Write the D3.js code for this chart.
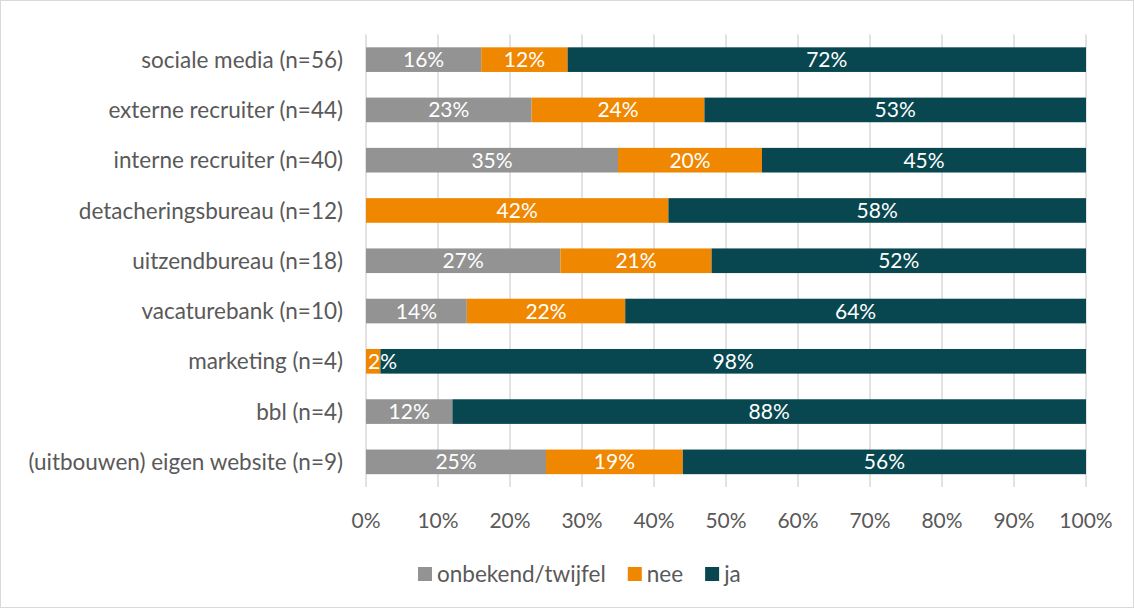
<!DOCTYPE html>
<html>
<head>
<meta charset="utf-8">
<script src="https://cdn.jsdelivr.net/npm/d3@7"></script>
<style>
  body { margin: 0; background: #fff; }
  svg text { font-family: Lato, "Open Sans", sans-serif; }
</style>
</head>
<body>
<script>
var w = 1134;
var h = 608;

// categories and values (percent)
var categories = [
  "sociale media (n=56)",
  "externe recruiter (n=44)",
  "interne recruiter (n=40)",
  "detacheringsbureau (n=12)",
  "uitzendbureau (n=18)",
  "vacaturebank (n=10)",
  "marketing (n=4)",
  "bbl (n=4)",
  "(uitbouwen) eigen website (n=9)"
];
var onbekend = [16, 23, 35, 0, 27, 14, 0, 12, 25];
var nee      = [12, 24, 20, 42, 21, 22, 2, 0, 19];
var ja       = [72, 53, 45, 58, 52, 64, 98, 88, 56];
var seriesNames = ["onbekend/twijfel", "nee", "ja"];
var seriesColors = ["#939393", "#F08700", "#08474F"];
var xTicks = [0, 10, 20, 30, 40, 50, 60, 70, 80, 90, 100];

var rows = categories.map(function(c, i) {
  return { cat: c, "onbekend/twijfel": onbekend[i], nee: nee[i], ja: ja[i] };
});

var stack = d3.stack().keys(seriesNames)(rows);

var plotLeft = 366, plotRight = 1086, plotTop = 34.5, plotBottom = 487;
var numSize = "21px", txtSize = "22.5px";

var x = d3.scaleLinear().domain([0, 100]).range([plotLeft, plotRight]);
var y = d3.scaleBand().domain(categories).range([plotTop, plotBottom]).paddingInner(0.51).paddingOuter(0.255);

var svg = d3.select("body").append("svg")
  .attr("width", w)
  .attr("height", h);

// border
svg.append("rect")
  .attr("x", 0.5).attr("y", 0.5)
  .attr("width", w - 1).attr("height", h - 1)
  .style("fill", "none")
  .style("stroke", "#d9d9d9");

// gridlines
svg.selectAll("line.grid")
  .data(xTicks)
  .enter()
  .append("line")
  .attr("class", "grid")
  .attr("x1", function(d) { return x(d); })
  .attr("x2", function(d) { return x(d); })
  .attr("y1", plotTop)
  .attr("y2", plotBottom)
  .style("stroke", "#d9d9d9")
  .style("stroke-width", 1.5);

// bars
var groups = svg.selectAll("g.series")
  .data(stack)
  .enter()
  .append("g")
  .attr("class", "series")
  .style("fill", function(d, i) { return seriesColors[i]; });

groups.selectAll("rect")
  .data(function(d) { return d; })
  .enter()
  .append("rect")
  .attr("x", function(d) { return x(d[0]); })
  .attr("width", function(d) { return x(d[1]) - x(d[0]); })
  .attr("y", function(d) { return y(d.data.cat); })
  .attr("height", y.bandwidth());

// value labels, in their own layer above all bars
var labelGroups = svg.selectAll("g.labels")
  .data(stack)
  .enter()
  .append("g")
  .attr("class", "labels");

labelGroups.selectAll("text")
  .data(function(d) { return d.filter(function(p) { return p[1] - p[0] > 0; }); })
  .enter()
  .append("text")
  .attr("y", function(d) { return y(d.data.cat) + y.bandwidth() / 2; })
  .attr("dy", "0.36em")
  .attr("text-anchor", "middle")
  .style("fill", "#fff")
  .style("font-size", numSize)
  .text(function(d) { return Math.round(d[1] - d[0]) + "%"; })
  .attr("x", function(d) {
    var half = this.getComputedTextLength() / 2;
    return Math.max(x((d[0] + d[1]) / 2), plotLeft + half + 2);
  });

// category labels
svg.selectAll("text.cat")
  .data(categories)
  .enter()
  .append("text")
  .attr("class", "cat")
  .attr("x", 343)
  .attr("y", function(d) { return y(d) + y.bandwidth() / 2; })
  .attr("dy", "0.36em")
  .attr("text-anchor", "end")
  .style("fill", "#595959")
  .style("font-size", txtSize)
  .text(function(d) { return d; });

// x axis labels
svg.selectAll("text.xt")
  .data(xTicks)
  .enter()
  .append("text")
  .attr("class", "xt")
  .attr("x", function(d) { return x(d); })
  .attr("y", 520)
  .attr("dy", "0.36em")
  .attr("text-anchor", "middle")
  .style("fill", "#595959")
  .style("font-size", numSize)
  .text(function(d) { return d + "%"; });

// legend
var legend = svg.append("g").attr("transform", "translate(418,574)");
var lx = 0;
seriesNames.forEach(function(name, i) {
  var g = legend.append("g").attr("transform", "translate(" + lx + ",0)");
  g.append("rect")
    .attr("x", 0).attr("y", -7)
    .attr("width", 14).attr("height", 14)
    .style("fill", seriesColors[i]);
  var t = g.append("text")
    .attr("x", 19).attr("y", 0)
    .attr("dy", "0.36em")
    .style("fill", "#595959")
    .style("font-size", txtSize)
    .text(name);
  lx += 19 + t.node().getComputedTextLength() + 22;
});
</script>
</body>
</html>
